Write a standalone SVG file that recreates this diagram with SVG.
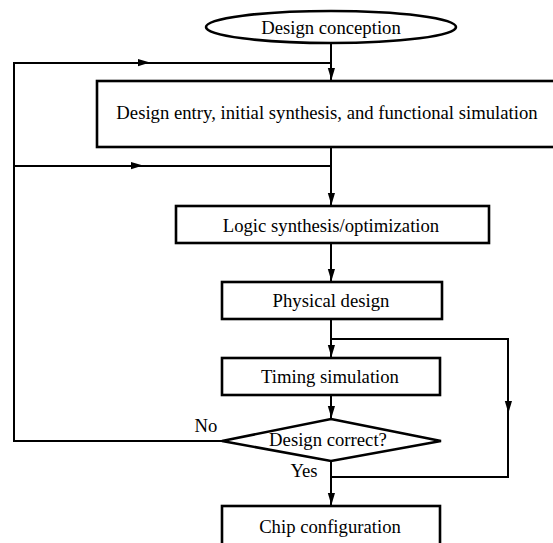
<svg xmlns="http://www.w3.org/2000/svg" width="553" height="543" viewBox="0 0 553 543">
<style>
.box{fill:#fff;stroke:#000;stroke-width:2.6}
.ln{fill:none;stroke:#000;stroke-width:2}
text{font-family:"Liberation Serif","Times New Roman",serif;font-size:18.7px;fill:#000;text-anchor:middle}
</style>
<defs>
<marker id="ah" markerWidth="12" markerHeight="8" refX="12" refY="4" orient="auto" markerUnits="userSpaceOnUse">
<path d="M0,0 L12,3.6 L0,7.2 Z" fill="#000"/>
</marker>
</defs>
<g id="connectors">
<line class="ln" x1="331" y1="43" x2="331" y2="80" marker-end="url(#ah)"/>
<polyline class="ln" points="222,441 14,441 14,63 331,63"/>
<line class="ln" x1="14" y1="63" x2="150" y2="63" marker-end="url(#ah)"/>
<line class="ln" x1="331" y1="147" x2="331" y2="205" marker-end="url(#ah)"/>
<line class="ln" x1="14" y1="166" x2="331" y2="166"/>
<line class="ln" x1="14" y1="166" x2="143" y2="166" marker-end="url(#ah)"/>
<line class="ln" x1="331" y1="243" x2="331" y2="281" marker-end="url(#ah)"/>
<line class="ln" x1="331" y1="319" x2="331" y2="357" marker-end="url(#ah)"/>
<polyline class="ln" points="331,339 508,339 508,477 331,477"/>
<line class="ln" x1="508" y1="339" x2="508" y2="413" marker-end="url(#ah)"/>
<line class="ln" x1="331" y1="395" x2="331" y2="418" marker-end="url(#ah)"/>
<line class="ln" x1="331" y1="461" x2="331" y2="505" marker-end="url(#ah)"/>
<text x="206" y="432">No</text>
<text x="304" y="477">Yes</text>
</g>
<g id="n-conception">
<ellipse class="box" cx="331" cy="27" rx="125" ry="16"/>
<text x="331" y="34">Design conception</text>
</g>
<g id="n-entry">
<rect class="box" x="97" y="81" width="470" height="66"/>
<text x="327" y="119">Design entry, initial synthesis, and functional simulation</text>
</g>
<g id="n-logic">
<rect class="box" x="176" y="206" width="313" height="37"/>
<text x="331" y="232">Logic synthesis/optimization</text>
</g>
<g id="n-physical">
<rect class="box" x="222" y="282" width="220" height="37"/>
<text x="331" y="307">Physical design</text>
</g>
<g id="n-timing">
<rect class="box" x="222" y="358" width="218" height="37"/>
<text x="330" y="383">Timing simulation</text>
</g>
<g id="n-decision">
<polygon class="box" points="331,419 441,441 331,461 222,441"/>
<text x="328" y="446">Design correct?</text>
</g>
<g id="n-chip">
<rect class="box" x="222" y="506" width="218" height="50"/>
<text x="330" y="533">Chip configuration</text>
</g>
</svg>
